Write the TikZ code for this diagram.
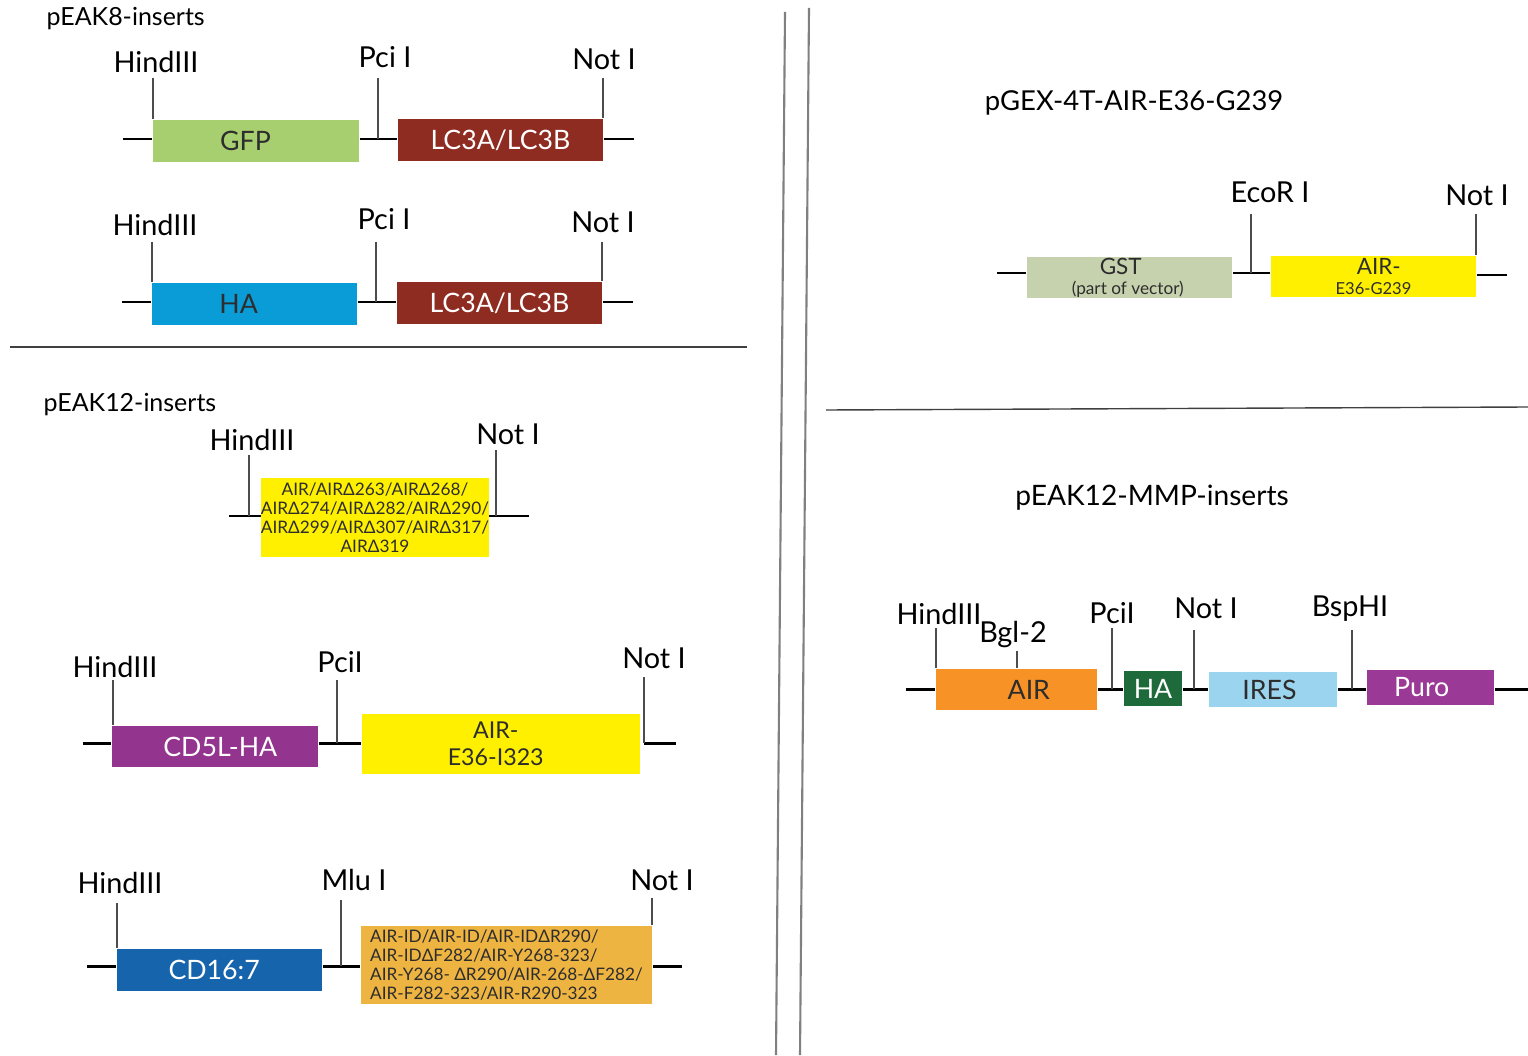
\documentclass[tikz,border=0pt]{standalone}
\usepackage{fontspec}
\setmainfont{Lato}
\definecolor{fgfp}{RGB}{168, 207, 111}
\definecolor{flc}{RGB}{142, 44, 34}
\definecolor{fha}{RGB}{10, 156, 214}
\definecolor{fyellow}{RGB}{255, 240, 0}
\definecolor{fcd}{RGB}{147, 52, 143}
\definecolor{fcds}{RGB}{22, 100, 172}
\definecolor{forange}{RGB}{238, 180, 66}
\definecolor{fgst}{RGB}{198, 210, 174}
\definecolor{fair}{RGB}{246, 146, 38}
\definecolor{fhag}{RGB}{30, 106, 58}
\definecolor{fires}{RGB}{155, 212, 238}
\definecolor{fpuro}{RGB}{155, 58, 150}
\definecolor{ftext}{RGB}{45, 45, 45}

\begin{document}
\begin{tikzpicture}[x=0.01cm, y=-0.01cm]
    \useasboundingbox (0,0) rectangle (1528,1055);

    \tikzstyle{box}=[rectangle, inner sep=0pt, text centered, text=ftext, font=\fontsize{7.6}{8.5}\selectfont]
    \tikzstyle{small}=[align=center, font=\fontsize{4.9}{5.4}\selectfont]
    \tikzstyle{site}=[inner sep=0pt, font=\fontsize{8.2}{9}\selectfont]
    \tikzstyle{title}=[inner sep=0pt, font=\fontsize{7.1}{8}\selectfont]
    \tikzstyle{bind}=[line width=0.85pt]
    \tikzstyle{cut}=[line width=0.4pt, black!70]
    \tikzstyle{divider}=[line width=0.6pt, black!50]

    % frames
    \draw[divider] (785,12) -- (776,1055);
    \draw[divider] (809,8) -- (800,1055);
    \draw[line width=0.4pt, black!75] (10,347) -- (747,347);
    \draw[line width=0.4pt, black!75] (826,410) -- (1528,407);

    % pEAK8
    \node[title, anchor=west] (t8) at (46,19) {pEAK8-inserts};

    \node[box, fill=fgfp, minimum width=2.06cm, minimum height=0.42cm] (gfp) at (256,141) {GFP\kern6pt};
    \node[box, fill=flc, text=white, minimum width=2.05cm, minimum height=0.42cm] (lcA) at (500.5,140) {LC3A/LC3B};
    \node[site] (hA) at (156,62) {HindIII};
    \node[site] (pA) at (385,57) {Pci I};
    \node[site] (nA) at (604,59) {Not I};
    \coordinate (hAt) at (153,78);
    \coordinate (pAt) at (378,78);
    \coordinate (nAt) at (603,78);
    \coordinate (sA) at (123,139);
    \coordinate (eA) at (634,139);
    \draw[bind] (sA) -- (sA -| gfp.west);
    \draw[bind] (gfp.east |- sA) -- (lcA.west |- sA);
    \draw[bind] (lcA.east |- sA) -- (eA);
    \draw[cut] (hAt) -- (hAt |- gfp.north);
    \draw[cut] (pAt) -- (pAt |- sA);
    \draw[cut] (nAt) -- (nAt |- lcA.north);

    \node[box, fill=fha, minimum width=2.05cm, minimum height=0.42cm] (ha) at (254.5,304) {HA\kern9pt};
    \node[box, fill=flc, text=white, minimum width=2.05cm, minimum height=0.42cm] (lcB) at (499.5,303) {LC3A/LC3B};
    \node[site] (hB) at (155,225) {HindIII};
    \node[site] (pB) at (384,219) {Pci I};
    \node[site] (nB) at (603,222) {Not I};
    \coordinate (hBt) at (152,242);
    \coordinate (pBt) at (376,242);
    \coordinate (nBt) at (602,242);
    \coordinate (sB) at (122,302);
    \coordinate (eB) at (633,302);
    \draw[bind] (sB) -- (sB -| ha.west);
    \draw[bind] (ha.east |- sB) -- (lcB.west |- sB);
    \draw[bind] (lcB.east |- sB) -- (eB);
    \draw[cut] (hBt) -- (hBt |- ha.north);
    \draw[cut] (pBt) -- (pBt |- sB);
    \draw[cut] (nBt) -- (nBt |- lcB.north);

    % pEAK12
    \node[title, anchor=west] (t12) at (43,405) {pEAK12-inserts};

    \coordinate (sC) at (229,516);
    \coordinate (eC) at (529,516);
    \coordinate (hCt) at (249,455);
    \coordinate (nCt) at (496,450);
    \draw[bind] (sC) -- (eC);
    \draw[cut] (hCt) -- (hCt |- sC);
    \draw[cut] (nCt) -- (nCt |- sC);
    \node[box, small, fill=fyellow, minimum width=2.28cm, minimum height=0.79cm] (del) at (375,517.5) {AIR/AIRΔ263/AIRΔ268/\\AIRΔ274/AIRΔ282/AIRΔ290/\\AIRΔ299/AIRΔ307/AIRΔ317/\\AIRΔ319};
    \node[site] (hC) at (252,440) {HindIII};
    \node[site] (nC) at (508,434) {Not I};

    \node[box, fill=fcd, text=white, minimum width=2.06cm, minimum height=0.41cm] (cd) at (215,746.5) {\kern3pt CD5L-HA};
    \node[box, fill=fyellow, minimum width=2.78cm, minimum height=0.60cm, align=center, font=\fontsize{6.6}{7.7}\selectfont] (airD) at (501,744) {AIR-\kern3pt\\E36-I323\kern3pt};
    \node[site] (hD) at (115,667) {HindIII};
    \node[site] (pD) at (340,662) {PciI};
    \node[site] (nD) at (654,658) {Not I};
    \coordinate (hDt) at (113,680);
    \coordinate (pDt) at (337,680);
    \coordinate (nDt) at (644,677);
    \coordinate (sD) at (83,743);
    \coordinate (eD) at (676,743);
    \draw[bind] (sD) -- (sD -| cd.west);
    \draw[bind] (cd.east |- sD) -- (airD.west |- sD);
    \draw[bind] (nDt |- sD) -- (eD);
    \draw[cut] (hDt) -- (hDt |- cd.north);
    \draw[cut] (pDt) -- (pDt |- sD);
    \draw[cut] (nDt) -- (nDt |- sD);

    \node[box, fill=fcds, text=white, minimum width=2.05cm, minimum height=0.42cm] (cds) at (219.5,970) {CD16:7\kern3pt};
    \node[box, small, fill=forange, align=left, minimum width=2.91cm, minimum height=0.78cm] (mut) at (506.5,965) {AIR-ID/AIR-ID/AIR-IDΔR290/\\AIR-IDΔF282/AIR-Y268-323/\\AIR-Y268- ΔR290/AIR-268-ΔF282/\\AIR-F282-323/AIR-R290-323};
    \node[site] (hE) at (120,883) {HindIII};
    \node[site] (mE) at (354,880) {Mlu I};
    \node[site] (nE) at (662,880) {Not I};
    \coordinate (hEt) at (117,903);
    \coordinate (mEt) at (341,900);
    \coordinate (nEt) at (652,898);
    \coordinate (sE) at (87,966);
    \coordinate (eE) at (682,966);
    \draw[bind] (sE) -- (sE -| cds.west);
    \draw[bind] (cds.east |- sE) -- (mut.west |- sE);
    \draw[bind] (mut.east |- sE) -- (eE);
    \draw[cut] (hEt) -- (hEt |- cds.north);
    \draw[cut] (mEt) -- (mEt |- sE);
    \draw[cut] (nEt) -- (nEt |- mut.north);

    % pGEX
    \node[title, font=\fontsize{7.8}{8}\selectfont] (tg) at (1134,103) {pGEX-4T-AIR-E36-G239};

    \node[box, fill=fgst, minimum width=2.05cm, minimum height=0.41cm, align=center, font=\fontsize{6.4}{5.6}\selectfont] (gst) at (1129.5,277.5) {GST\kern5pt\\{\fontsize{4.9}{5}\selectfont (part of vector)}\kern1pt};
    \node[box, fill=fyellow, minimum width=2.05cm, minimum height=0.41cm, align=center, font=\fontsize{6.4}{5.6}\selectfont] (airG) at (1373.5,276.5) {\kern3pt AIR-\\{\fontsize{4.7}{5}\selectfont E36-G239}};
    \node[site] (eF) at (1270,192) {EcoR I};
    \node[site] (nF) at (1477,195) {Not I};
    \coordinate (eFt) at (1251,214);
    \coordinate (nFt) at (1476,214);
    \coordinate (sF) at (997,273);
    \coordinate (zF) at (1507,275);
    \draw[bind] (sF) -- (sF -| gst.west);
    \draw[bind] (gst.east |- sF) -- (airG.west |- sF);
    \draw[bind] (airG.east |- zF) -- (zF);
    \draw[cut] (eFt) -- (eFt |- sF);
    \draw[cut] (nFt) -- (nFt |- airG.north);

    % pEAK12-MMP
    \node[title, font=\fontsize{8}{8}\selectfont] (tm) at (1152,498) {pEAK12-MMP-inserts};

    \node[box, fill=fair, minimum width=1.61cm, minimum height=0.41cm] (air) at (1016.5,689.5) {\kern7pt AIR};
    \node[box, fill=fhag, text=white, minimum width=0.58cm, minimum height=0.35cm] (hag) at (1153,688.5) {HA};
    \node[box, fill=fires, minimum width=1.28cm, minimum height=0.35cm] (ires) at (1273,689.5) {IRES\kern2pt};
    \node[box, fill=fpuro, text=white, minimum width=1.27cm, minimum height=0.35cm] (puro) at (1430.5,687.5) {Puro\kern5pt};
    \node[site] (hG) at (939,614) {HindIII};
    \node[site] (bG) at (1013,635) {Bgl-2};
    \node[site] (pG) at (1112,613) {PciI};
    \node[site] (nG) at (1206,608) {Not I};
    \node[site] (sG) at (1350,609) {BspHI};
    \coordinate (hGt) at (936,628);
    \coordinate (bGt) at (1017,651);
    \coordinate (pGt) at (1112,628);
    \coordinate (nGt) at (1194,630);
    \coordinate (sGt) at (1352,630);
    \coordinate (lG) at (906,689);
    \coordinate (rG) at (1528,689);
    \draw[bind] (lG) -- (lG -| air.west);
    \draw[bind] (air.east |- lG) -- (hag.west |- lG);
    \draw[bind] (hag.east |- lG) -- (ires.west |- lG);
    \draw[bind] (ires.east |- lG) -- (puro.west |- lG);
    \draw[bind] (puro.east |- lG) -- (rG);
    \draw[cut] (hGt) -- (hGt |- air.north);
    \draw[cut] (bGt) -- (bGt |- air.north);
    \draw[cut] (pGt) -- (pGt |- lG);
    \draw[cut] (nGt) -- (nGt |- lG);
    \draw[cut] (sGt) -- (sGt |- lG);
\end{tikzpicture}
\end{document}
